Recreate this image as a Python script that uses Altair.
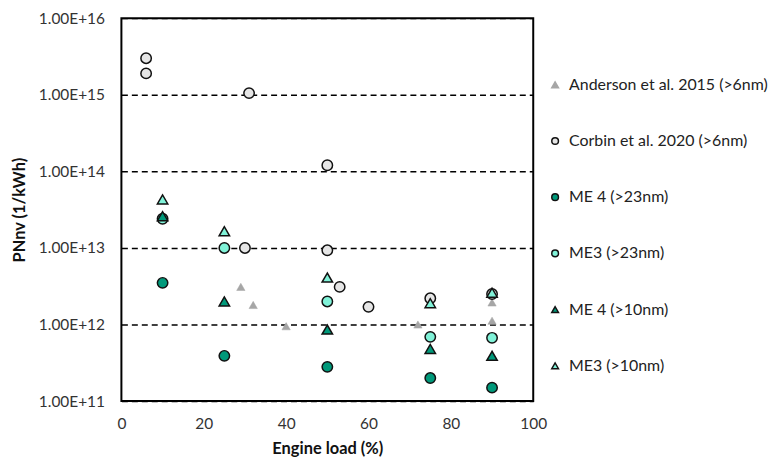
import altair as alt
import pandas as pd

series_order = ["Anderson et al. 2015 (>6nm)", "Corbin et al. 2020 (>6nm)",
                "ME 4 (>23nm)", "ME3 (>23nm)", "ME 4 (>10nm)", "ME3 (>10nm)"]

anderson_x = [29, 32, 40, 72, 90, 90]
anderson_y = [3.1e12, 1.8e12, 9.5e11, 1.0e12, 1.94e12, 1.12e12]

corbin_x = [6, 6, 31, 50, 30, 50, 53, 60, 75, 90]
corbin_y = [3.0e15, 1.9e15, 1.05e15, 1.2e14, 1.0e13, 9.3e12, 3.1e12, 1.7e12, 2.2e12, 2.5e12]

me4_23_x = [10, 25, 50, 75, 90]
me4_23_y = [3.5e12, 3.9e11, 2.8e11, 2.0e11, 1.5e11]

me3_23_x = [10, 25, 50, 75, 90]
me3_23_y = [2.4e13, 1.0e13, 2.0e12, 6.9e11, 6.7e11]

me4_10_x = [10, 25, 50, 75, 90]
me4_10_y = [2.6e13, 2.0e12, 8.6e11, 4.8e11, 3.9e11]

me3_10_x = [10, 25, 50, 75, 90]
me3_10_y = [4.3e13, 1.65e13, 4.1e12, 1.9e12, 2.6e12]

y_ticks = [1e11, 1e12, 1e13, 1e14, 1e15, 1e16]
x_ticks = [0, 20, 40, 60, 80, 100]

rows = []
for name, xs, ys in [
    (series_order[0], anderson_x, anderson_y),
    (series_order[1], corbin_x, corbin_y),
    (series_order[2], me4_23_x, me4_23_y),
    (series_order[3], me3_23_x, me3_23_y),
    (series_order[4], me4_10_x, me4_10_y),
    (series_order[5], me3_10_x, me3_10_y),
]:
    for x, y in zip(xs, ys):
        rows.append({"series": name, "load": x, "pn": y})
df = pd.DataFrame(rows)

dark = "#00997a"
light = "#80f2d8"
fills = ["#a6a6a6", "#e6e6e6", dark, light, dark, light]
strokes = ["#a6a6a6", "#111111", "#111111", "#111111", "#111111", "#111111"]
shapes = ["triangle-up", "circle", "circle", "circle", "triangle-up", "triangle-up"]

font = "Lato"

legend = alt.Legend(
    title=None, orient="none", legendX=428, legendY=59,
    rowPadding=40.5, symbolSize=45, symbolStrokeWidth=1.5,
    labelFont=font, labelFontSize=16, labelColor="#222222",
    labelOffset=6, symbolOpacity=1, labelLimit=0,
)

x_enc = alt.X("load:Q", title="Engine load (%)",
              scale=alt.Scale(domain=[0, 100], nice=False),
              axis=alt.Axis(values=x_ticks, grid=False, ticks=False, labelFlush=False,
                            domain=False, labelPadding=16, labelFontSize=15.5,
                            labelFont=font, labelColor="#333333",
                            titleFont=font, titleFontSize=16.5, titleFontWeight="bold",
                            titleColor="#111111", titlePadding=8))
y_enc = alt.Y("pn:Q", title="PNnv (1/kWh)",
              scale=alt.Scale(type="log", domain=[1e11, 1e16], nice=False),
              axis=alt.Axis(values=y_ticks, grid=True, gridDash=[6, 4], gridColor="#000000",
                            gridWidth=1.5, ticks=False, domain=False, labelFlush=False,
                            labelExpr="'1.00E+' + round(log(datum.value)/LN10)",
                            labelPadding=17, labelFontSize=15.5, labelFont=font,
                            labelColor="#333333", titleFont=font, titleFontSize=16.5,
                            titleFontWeight="bold", titleColor="#111111",
                            titlePadding=4, minExtent=90, maxExtent=90))

common = dict(
    x=x_enc, y=y_enc,
    fill=alt.Fill("series:N", scale=alt.Scale(domain=series_order, range=fills), legend=legend),
    stroke=alt.Stroke("series:N", scale=alt.Scale(domain=series_order, range=strokes), legend=legend),
    shape=alt.Shape("series:N", scale=alt.Scale(domain=series_order, range=shapes), legend=legend),
)

base = alt.Chart(df)
anderson_layer = base.transform_filter(
    alt.datum.series == series_order[0]
).mark_point(filled=True, size=70, opacity=1, strokeWidth=0.5).encode(**common)
other_layer = base.transform_filter(
    alt.datum.series != series_order[0]
).mark_point(filled=True, size=110, opacity=1, strokeWidth=1.5).encode(**common)

chart = alt.layer(anderson_layer, other_layer).properties(
    width=414, height=385,
    padding={"left": 4, "top": 2, "right": 0, "bottom": 0},
).configure(
    background="white"
).configure_view(
    stroke="#000000", strokeWidth=2
)

chart.save("out.html", embed_options={"renderer": "svg", "actions": False})
